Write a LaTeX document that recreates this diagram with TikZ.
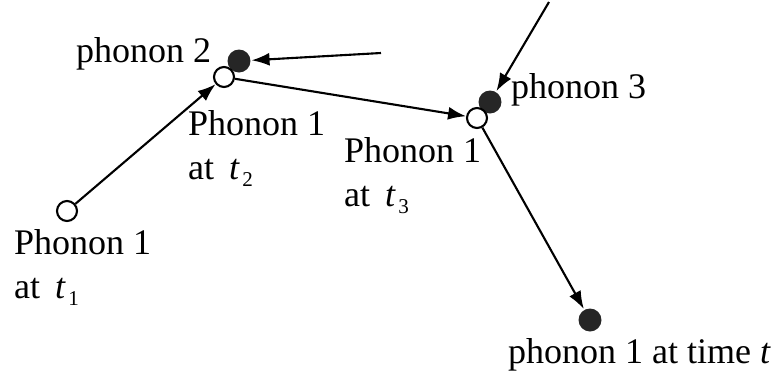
\documentclass[tikz,border=0pt]{standalone}
\usepackage{fontspec}
\setmainfont{Liberation Serif}
\usetikzlibrary{arrows.meta}
\newcommand{\tsub}[1]{\textit{t}\kern1.5pt\raisebox{-0.45ex}{\fontsize{12}{12}\selectfont #1}}
\begin{document}
\begin{tikzpicture}[x=0.02cm,y=-0.02cm,line width=1.2pt,
    hollow/.style={circle,draw,fill=white,minimum size=0.4cm,inner sep=0pt},
    full/.style={circle,fill=black!85,minimum size=0.46cm,inner sep=0pt},
    tip/.style={-{Latex[length=0.36cm,width=0.26cm]}},
    lbl/.style={align=left,inner sep=0pt,font=\fontsize{20.5}{25}\selectfont}]
    \useasboundingbox (0,0) rectangle (782,373);
    % phonons
    \node[hollow] (p1a) at (67,211) {};
    \node[full] (p2) at (239,61) {};
    \node[hollow] (p1b) at (224,77) {};
    \node[full] (p3) at (490,102) {};
    \node[hollow] (p1c) at (477,118) {};
    \node[full] (p1d) at (590,320) {};
    \coordinate (in2) at (381,53);
    \coordinate (in3) at (549,2);
    % paths
    \draw[tip] (p1a) -- (p1b);
    \draw[tip] (in2) -- (p2);
    \draw[tip] (p1b) -- (p1c);
    \draw[tip] (in3) -- (p3);
    \draw[tip] (p1c) -- (p1d);
    % labels
    \node[lbl,anchor=base west] (l1) at (13,298) {Phonon 1\\at\ \,\tsub{1}};
    \node[lbl,anchor=base west] (l2) at (187,179) {Phonon 1\\at\ \,\tsub{2}};
    \node[lbl,anchor=base west] (l3) at (343,206) {Phonon 1\\at\ \,\tsub{3}};
    \node[lbl,anchor=base west] (l4) at (75,62) {phonon 2};
    \node[lbl,anchor=base west] (l5) at (510,98) {phonon 3};
    \node[lbl,anchor=base west] (l6) at (507,363) {phonon 1 at time \textit{t}};
\end{tikzpicture}
\end{document}
